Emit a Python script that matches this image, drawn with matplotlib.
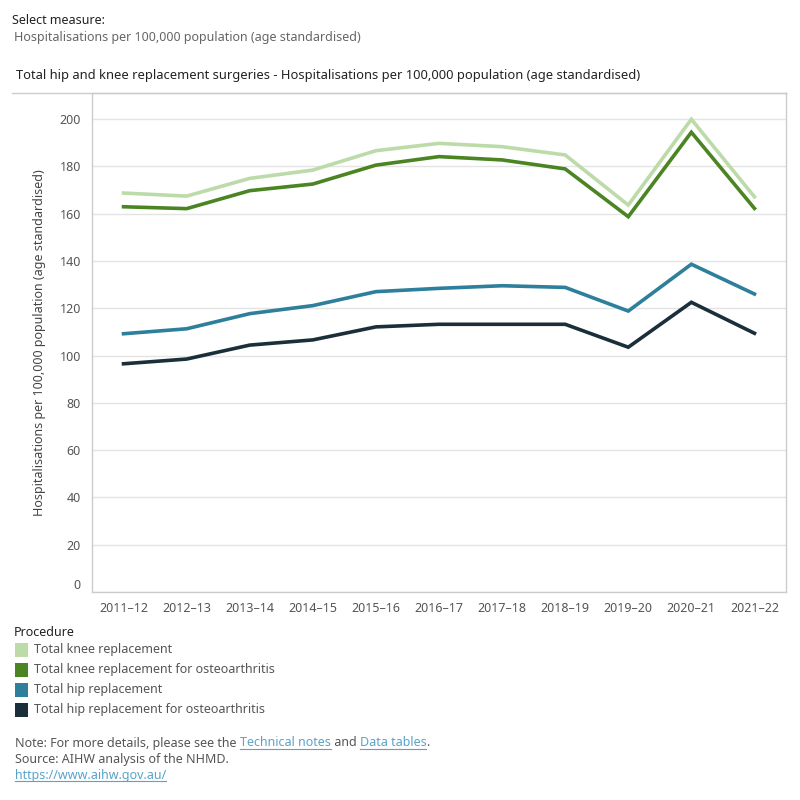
import matplotlib
matplotlib.use("Agg")
import matplotlib.pyplot as plt
from matplotlib.lines import Line2D
from matplotlib.patches import Rectangle

plt.rcParams["font.family"] = ["Noto Sans", "DejaVu Sans"]

# --- Data ---
years = ["2011–12", "2012–13", "2013–14", "2014–15", "2015–16", "2016–17",
         "2017–18", "2018–19", "2019–20", "2020–21", "2021–22"]
knee = [168.7, 167.4, 174.9, 178.4, 186.6, 189.7, 188.3, 184.8, 163.6, 199.9, 167.1]
knee_oa = [162.9, 162.1, 169.7, 172.5, 180.5, 184.1, 182.7, 178.9, 158.7, 194.4, 162.2]
hip = [109.2, 111.3, 117.7, 121.1, 127.0, 128.4, 129.5, 128.8, 118.8, 138.6, 126.0]
hip_oa = [96.5, 98.5, 104.4, 106.6, 112.1, 113.2, 113.2, 113.2, 103.5, 122.5, 109.4]

series_names = ["Total knee replacement",
                "Total knee replacement for osteoarthritis",
                "Total hip replacement",
                "Total hip replacement for osteoarthritis"]
series_vals = [knee, knee_oa, hip, hip_oa]
colors = ["#bcdba8", "#4b8523", "#2e7f9b", "#1b2f3a"]

yticks = [0, 20, 40, 60, 80, 100, 120, 140, 160, 180, 200]

# --- Figure ---
fig = plt.figure(figsize=(8, 8), dpi=100)
ax = fig.add_axes([0.115, 0.26, 0.8675, 0.62375])

x = list(range(len(years)))
for vals, c in zip(series_vals, colors):
    ax.plot(x, vals, color=c, linewidth=2.6, solid_joinstyle="miter", zorder=3)

ax.set_xlim(-0.5, len(years) - 0.5)
ax.set_ylim(0, 211)
ax.set_yticks(yticks)
ax.set_yticklabels([str(v) for v in yticks])
ax.set_xticks(x)
ax.set_xticklabels(years)
ax.tick_params(axis="both", length=0, labelsize=9, colors="#555555")
ax.tick_params(axis="y", pad=8)
ax.tick_params(axis="x", pad=7)
for lbl in ax.get_yticklabels():
    if lbl.get_text() == "0":
        lbl.set_va("bottom")
ax.grid(axis="y", color="#e4e4e4", linewidth=1)
ax.set_axisbelow(True)
for s in ax.spines.values():
    s.set_color("#cccccc")
    s.set_linewidth(1)

ax.set_ylabel("Hospitalisations per 100,000 population (age standardised)",
              fontsize=9, color="#444444", labelpad=10)

# outer frame of chart box (top line extends over y-axis panel)
fig.add_artist(Line2D([12 / 800, 786 / 800], [1 - 93 / 800, 1 - 93 / 800],
                      transform=fig.transFigure, color="#cccccc", linewidth=1))

# --- Header text ---
fig.text(12 / 800, 1 - 20 / 800, "Select measure:", fontsize=9, color="#222222", va="center")
fig.text(14 / 800, 1 - 38 / 800, "Hospitalisations per 100,000 population (age standardised)",
         fontsize=9, color="#666666", va="center")
fig.text(16 / 800, 1 - 75 / 800,
         "Total hip and knee replacement surgeries - Hospitalisations per 100,000 population (age standardised)",
         fontsize=9.3, color="#222222", va="center")

# --- Legend ---
fig.text(14 / 800, 1 - 632 / 800, "Procedure", fontsize=9, color="#222222", va="center")
for i, (name, c) in enumerate(zip(series_names, colors)):
    yc = 650 + 20 * i
    fig.add_artist(Rectangle((15 / 800, 1 - (yc + 7) / 800), 13 / 800, 14 / 800,
                             transform=fig.transFigure, facecolor=c, edgecolor="none"))
    fig.text(34 / 800, 1 - yc / 800, name, fontsize=9, color="#555555", va="center")

# --- Notes with links ---
fig.canvas.draw()
renderer = fig.canvas.get_renderer()
link_color = "#5aa3c8"


def run_text(x0, y0, parts):
    xp = x0
    for txt, link in parts:
        t = fig.text(xp, y0, txt, fontsize=9, va="center",
                     color=link_color if link else "#555555")
        bb = t.get_window_extent(renderer=renderer)
        w = bb.width / fig.bbox.width
        if link:
            yl = y0 - 6 / 800
            fig.add_artist(Line2D([xp, xp + w], [yl, yl], transform=fig.transFigure,
                                  color=link_color, linewidth=0.8))
        xp += w


run_text(15 / 800, 1 - 743 / 800, [("Note: For more details, please see the ", False),
                                   ("Technical notes", True), (" and ", False),
                                   ("Data tables", True), (".", False)])
run_text(15 / 800, 1 - 759 / 800, [("Source: AIHW analysis of the NHMD.", False)])
run_text(15 / 800, 1 - 775 / 800, [("https://www.aihw.gov.au/", True)])

fig.savefig("out.png", dpi=100)
